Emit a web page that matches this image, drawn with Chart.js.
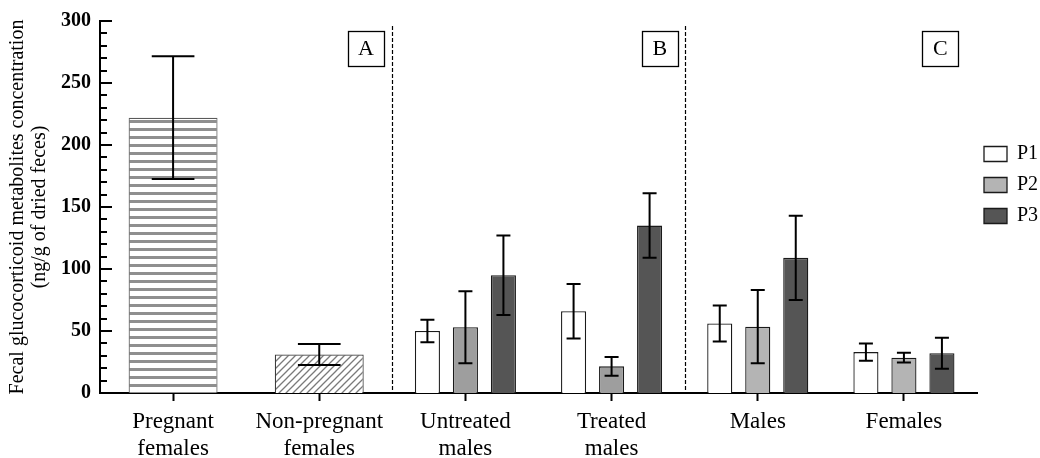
<!DOCTYPE html>
<html>
<head>
<meta charset="utf-8">
<script src="https://cdn.jsdelivr.net/npm/chart.js@4.4.1/dist/chart.umd.min.js"></script>
<style>
  html, body { margin:0; padding:0; background:#fff; }
  #wrap { width:1040px; height:458px; }
</style>
</head>
<body>
<div id="wrap"><canvas id="chart" width="1040" height="458"></canvas></div>
<script>
/* ---- data ---- */
const groups     = [['Pregnant','females'], ['Non-pregnant','females'], ['Untreated','males'],
                    ['Treated','males'], ['Males'], ['Females']];
const reproMean  = [222, 31, null, null, null, null];
const reproSD    = [49.5, 8.5, null, null, null, null];
const p1Mean     = [null, null, 50, 66, 56, 33];
const p1SD       = [null, null, 9, 22, 14.5, 7];
const p2Mean     = [null, null, 53, 21.5, 53.5, 28.5];
const p2SD       = [null, null, 29, 7.5, 29.5, 4];
const p3Mean     = [null, null, 95, 135, 109, 32];
const p3SD       = [null, null, 32, 26, 34, 12.5];
const panelNames = ['A', 'B', 'C'];
const yTitle     = ['Fecal glucocorticoid metabolites concentration', '(ng/g of dried feces)'];

const serif = "'Liberation Serif', 'Times New Roman', serif";
Chart.defaults.font.family = serif;
Chart.defaults.color = '#000';

/* ---- fill patterns ---- */
function stripePattern() {
  const c = document.createElement('canvas');
  c.width = 8; c.height = 8;
  const g = c.getContext('2d');
  g.fillStyle = '#fff'; g.fillRect(0, 0, 8, 8);
  g.fillStyle = '#8f8f8f'; g.fillRect(0, 0, 8, 3);
  return g.createPattern(c, 'repeat');
}
function hatchPattern() {
  const s = 7;
  const c = document.createElement('canvas');
  c.width = s; c.height = s;
  const g = c.getContext('2d');
  g.fillStyle = '#fff'; g.fillRect(0, 0, s, s);
  g.strokeStyle = '#7a7a7a'; g.lineWidth = 1.3;
  g.beginPath();
  g.moveTo(-1, 1); g.lineTo(1, -1);
  g.moveTo(0, s); g.lineTo(s, 0);
  g.moveTo(s - 1, s + 1); g.lineTo(s + 1, s - 1);
  g.stroke();
  return g.createPattern(c, 'repeat');
}

/* ---- error bars, dividers, panel boxes, inward y ticks ---- */
const decorPlugin = {
  id: 'decor',
  afterDatasetsDraw(chart) {
    const { ctx, chartArea: ca } = chart;
    const x = chart.scales.x, y = chart.scales.y;
    ctx.save();

    // error bars
    ctx.strokeStyle = '#000'; ctx.lineWidth = 2;
    chart.data.datasets.forEach((ds, di) => {
      const meta = chart.getDatasetMeta(di);
      meta.data.forEach((bar, i) => {
        const m = ds.data[i], e = ds.sd[i];
        if (m == null || e == null) return;
        const yt = y.getPixelForValue(m + e), yb = y.getPixelForValue(m - e);
        const half = Math.max(7, bar.width * 0.24);
        ctx.beginPath();
        ctx.moveTo(bar.x, yt); ctx.lineTo(bar.x, yb);
        ctx.moveTo(bar.x - half, yt); ctx.lineTo(bar.x + half, yt);
        ctx.moveTo(bar.x - half, yb); ctx.lineTo(bar.x + half, yb);
        ctx.stroke();
      });
    });

    // dashed panel dividers between category 1|2 and 3|4
    ctx.lineWidth = 1.2; ctx.setLineDash([4, 2]);
    [1.5, 3.5].forEach(v => {
      const px = Math.round(x.getPixelForValue(v)) + 0.5;
      ctx.beginPath(); ctx.moveTo(px, ca.top + 5); ctx.lineTo(px, ca.bottom); ctx.stroke();
    });
    ctx.setLineDash([]);

    // boxed panel letters
    const spots = [1.32, 3.33, 5.25];
    ctx.font = '22px ' + serif;
    ctx.textAlign = 'center'; ctx.textBaseline = 'middle';
    panelNames.forEach((t, k) => {
      const cx = x.getPixelForValue(spots[k]), cy = ca.top + 27.5;
      ctx.lineWidth = 1.3;
      ctx.strokeRect(Math.round(cx - 18) + 0.5, Math.round(cy - 17.5) + 0.5, 36, 35);
      ctx.fillStyle = '#000';
      ctx.fillText(t, cx, cy + 1);
    });

    // y ticks drawn inward, major every 50
    ctx.lineWidth = 2;
    y.ticks.forEach(t => {
      const py = Math.round(y.getPixelForValue(t.value));
      const len = t.value % 50 === 0 ? 12 : 7;
      ctx.beginPath(); ctx.moveTo(ca.left, py); ctx.lineTo(ca.left + len, py); ctx.stroke();
    });
    ctx.restore();
  }
};

const barBorder = '#1a1a1a';

new Chart(document.getElementById('chart'), {
  type: 'bar',
  data: {
    labels: groups,
    datasets: [
      { label: 'Reproductive', data: reproMean, sd: reproSD,
        backgroundColor: [stripePattern(), hatchPattern()],
        borderColor: ['#5a5a5a', '#3a3a3a'], borderWidth: 1.2, barPercentage: 0.78 },
      { label: 'P1', data: p1Mean, sd: p1SD,
        backgroundColor: '#ffffff', borderColor: barBorder, borderWidth: 1.3, barPercentage: 0.66 },
      { label: 'P2', data: p2Mean, sd: p2SD,
        backgroundColor: c => (c.dataIndex === 2 || c.dataIndex === 3) ? '#9e9e9e' : '#b4b4b4',
        borderColor: barBorder, borderWidth: 1.3, barPercentage: 0.66 },
      { label: 'P3', data: p3Mean, sd: p3SD,
        backgroundColor: '#555555', borderColor: barBorder, borderWidth: 1.3, barPercentage: 0.66 },
    ]
  },
  options: {
    responsive: false,
    animation: false,
    devicePixelRatio: 1,
    skipNull: true,
    categoryPercentage: 0.78,
    layout: { padding: { top: 17, left: 0, right: 0, bottom: 0 } },
    plugins: {
      tooltip: { enabled: false },
      legend: {
        position: 'right', align: 'start', fullSize: false, maxWidth: 63,
        title: { display: true, text: '', padding: { top: 106, bottom: 0 }, font: { size: 10, lineHeight: 1 } },
        labels: {
          boxWidth: 23, boxHeight: 15, padding: 7, color: '#000',
          font: { size: 20, family: serif, lineHeight: 1.2 },
          generateLabels: ch => Chart.defaults.plugins.legend.labels.generateLabels(ch)
            .filter(l => l.datasetIndex > 0)
            .map(l => Object.assign(l, { text: [l.text], lineWidth: 1.3, strokeStyle: barBorder })),
        },
      },
    },
    scales: {
      x: {
        grid: { drawOnChartArea: false, offset: false, tickLength: 8, tickWidth: 2, tickColor: '#000' },
        border: { display: true, width: 2, color: '#000' },
        ticks: { font: { size: 23, family: serif, lineHeight: 1.2 }, color: '#000', padding: 7,
                 maxRotation: 0, autoSkip: false },
        afterFit: s => { s.height = 65; },
      },
      y: {
        min: 0, max: 300,
        grid: { display: false, drawTicks: false },
        border: { display: true, width: 2, color: '#000' },
        ticks: { stepSize: 10, autoSkip: false, padding: 9, color: '#000',
                 font: { size: 20, weight: 'bold', family: serif },
                 callback: v => v % 50 === 0 ? v : '' },
        title: { display: true, text: yTitle, color: '#000',
                 font: { size: 20, family: serif, lineHeight: 1.1 }, padding: { top: 7, bottom: 0 } },
        afterFit: s => { s.width = 100; },
      },
    },
  },
  plugins: [decorPlugin],
});
</script>
</body>
</html>
